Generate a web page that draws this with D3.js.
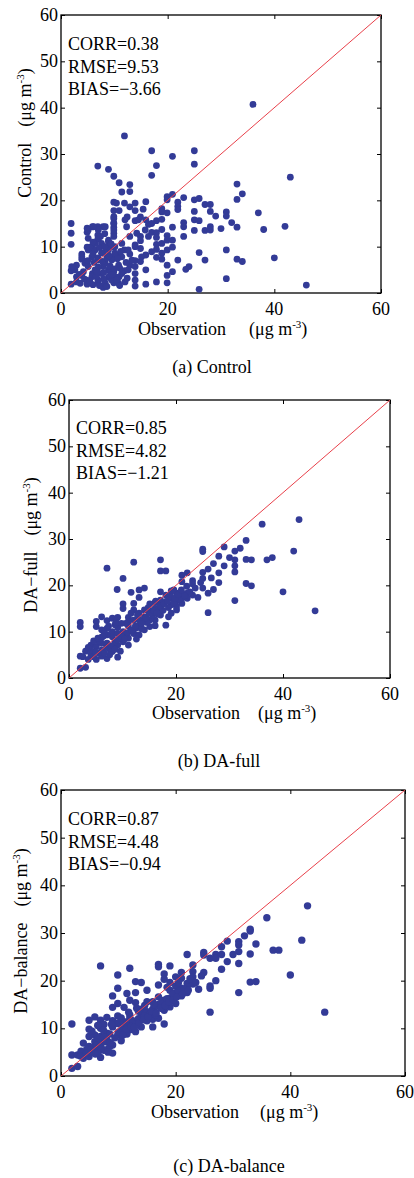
<!DOCTYPE html>
<html>
<head>
<meta charset="utf-8">
<script src="https://cdn.jsdelivr.net/npm/d3@7"></script>
<style>
body { margin: 0; background: #fff; }
svg { display: block; font-family: "Liberation Serif", "Times New Roman", serif; }
</style>
</head>
<body>
<svg id="chart" width="414" height="1178"></svg>
<script>
// axis ticks, shared by the three panels
var xTicks = [0, 20, 40, 60];
var yTicks = [0, 10, 20, 30, 40, 50, 60];

var panelNames = ["Control", "DA\u2212full", "DA\u2212balance"];
var captions = ["(a) Control", "(b) DA-full", "(c) DA-balance"];
var corrValues = ["0.38", "0.85", "0.87"];
var rmseValues = ["9.53", "4.82", "4.48"];
var biasValues = ["\u22123.66", "\u22121.21", "\u22120.94"];

// [observation, model] pairs
var controlPoints = [
  [36.0,40.7],[11.9,33.9],[17.0,30.7],[25.0,30.7],[20.9,29.5],[25.0,27.8],[17.9,27.5],[6.9,27.4],
  [8.9,26.7],[17.0,25.4],[9.9,25.2],[43.0,25.0],[10.9,23.8],[12.9,23.4],[33.0,23.5],[12.9,21.9],
  [11.4,21.8],[34.0,21.4],[20.9,21.3],[19.9,20.8],[23.0,20.6],[25.9,20.4],[25.0,20.1],[33.0,20.2],
  [19.9,20.1],[15.9,19.7],[9.9,19.6],[10.4,19.4],[11.9,19.4],[13.9,19.4],[21.9,19.6],[27.0,19.1],
  [28.0,19.1],[21.9,18.7],[12.9,18.6],[18.9,18.2],[21.9,18.0],[9.9,17.8],[10.9,17.8],[13.9,17.8],
  [15.4,18.1],[18.9,17.5],[19.9,17.3],[25.0,17.6],[28.0,17.6],[31.0,17.5],[37.0,17.3],[29.0,16.6],
  [31.0,16.6],[12.4,16.4],[9.9,16.1],[14.9,16.4],[15.9,15.8],[13.9,15.6],[17.9,15.6],[18.9,15.9],
  [25.0,15.8],[25.9,15.6],[23.0,15.2],[32.0,15.2],[1.9,15.0],[16.4,14.8],[9.9,15.0],[23.0,14.3],
  [28.0,14.3],[33.0,14.2],[42.0,14.4],[20.9,14.2],[9.9,14.2],[4.9,14.0],[5.9,14.3],[6.9,14.3],
  [7.9,14.3],[4.9,13.1],[18.9,13.7],[27.0,13.5],[28.0,13.6],[25.0,13.5],[30.0,13.9],[38.0,13.7],
  [1.9,12.9],[9.9,12.9],[17.0,13.1],[17.9,13.0],[14.9,12.2],[12.9,12.2],[23.0,12.2],[19.9,12.4],
  [17.9,12.0],[6.9,12.5],[6.9,11.6],[20.9,11.4],[8.9,11.1],[14.9,11.3],[19.9,11.4],[1.9,10.5],
  [8.9,10.2],[13.9,10.4],[17.9,10.5],[18.9,10.7],[20.9,9.9],[31.0,9.3],[9.9,9.9],[4.9,9.9],
  [11.9,9.3],[14.9,9.6],[5.9,9.6],[17.9,9.4],[19.9,9.3],[17.0,8.9],[25.9,8.7],[7.9,8.7],
  [3.9,8.4],[12.9,8.4],[15.9,8.2],[18.9,8.6],[10.9,8.2],[40.0,7.6],[6.9,7.6],[27.0,7.1],
  [33.0,7.3],[34.0,6.8],[18.9,7.3],[21.9,7.1],[3.9,7.3],[9.9,7.5],[13.9,7.0],[17.9,7.7],
  [2.9,6.0],[4.9,6.4],[12.9,6.0],[14.9,6.8],[19.9,6.0],[24.0,5.7],[23.4,5.1],[7.9,5.7],
  [15.9,5.0],[1.9,4.8],[11.9,4.8],[20.9,4.6],[9.9,4.6],[13.9,4.2],[5.9,4.2],[19.9,3.8],
  [2.9,3.5],[3.9,3.8],[31.0,3.1],[8.9,3.4],[10.9,3.5],[6.9,2.9],[13.9,2.8],[17.9,2.4],
  [19.9,2.2],[15.9,1.9],[4.9,1.9],[1.9,1.9],[13.9,1.5],[7.9,1.2],[25.9,0.8],[46.0,1.7],
  [2.9,2.4],[9.9,2.2],
  [5.1,9.3],[6.4,9.3],[7.6,8.6],[8.9,9.3],[10.1,8.6],[11.4,7.8],[5.8,7.8],[7.0,7.1],
  [8.3,6.4],[9.5,7.1],[10.8,6.0],[4.5,6.4],[3.9,7.8],[5.1,5.7],[6.4,5.0],[7.6,4.2],
  [8.9,5.0],[10.1,3.5],[11.4,4.2],[12.6,5.0],[13.9,5.7],[5.8,3.5],[7.0,2.4],[8.3,2.1],
  [9.5,2.8],[10.8,2.1],[12.0,2.4],[4.8,2.8],[3.6,2.1],[2.6,5.0],[2.0,5.7],[6.4,10.7],
  [7.6,10.7],[7.0,13.6],[5.1,13.6],[6.1,14.3],[8.3,14.3],[5.1,11.8],[7.0,11.8],[8.9,11.4],
  [10.1,10.0],[11.4,10.7],[12.6,9.3],[13.9,10.0],[13.3,7.1],[15.1,7.8],[9.9,16.5],[9.9,15.1],
  [9.9,13.6],[9.9,12.2],[12.0,15.8],[12.3,14.3],[14.5,15.8],[14.2,12.9],[15.8,13.6],[16.4,12.2],
  [17.0,15.0],
  [4.4,3.0],[5.4,2.6],[6.0,1.8],[6.6,3.6],[7.2,1.6],[8.0,3.0],[8.6,1.4],[9.2,3.8],
  [10.4,2.8],[11.0,1.6],[6.2,6.6],[7.0,5.6],[7.8,6.8],[8.6,7.6],[9.2,5.8],[10.0,5.2],
  [10.6,7.4],[6.0,8.4],[5.4,9.9],[7.2,9.8],[8.2,10.0],[9.0,8.0],[11.2,9.0],[12.2,6.6],
  [4.2,4.6],[3.4,4.0],[5.0,7.0],[6.8,4.6],[8.0,4.4],[9.6,4.0],[11.0,5.4],[12.4,3.2],
  [7.4,12.2],[8.2,12.8],[6.0,11.0],[9.4,10.6]
];

var fullPoints = [
  [43.0,34.2],[36.1,33.2],[33.1,29.7],[29.0,28.3],[25.0,27.8],[25.0,27.3],[32.0,28.0],[31.0,27.4],
  [42.0,27.4],[28.0,26.3],[30.0,26.0],[37.0,25.5],[38.0,26.0],[33.1,25.6],[34.1,25.5],[31.0,25.5],
  [17.1,25.5],[12.1,25.0],[7.1,23.7],[27.0,24.7],[29.0,24.2],[31.0,24.2],[26.0,23.5],[25.0,22.8],
  [31.0,22.9],[17.1,23.1],[18.1,23.1],[22.1,22.7],[21.1,22.2],[28.0,22.7],[25.0,21.5],[10.1,21.5],
  [21.1,20.8],[23.1,21.0],[28.0,20.6],[33.1,20.4],[34.1,19.9],[23.1,20.3],[9.0,19.1],[13.1,19.0],
  [14.1,19.4],[11.6,18.5],[17.1,18.6],[25.0,19.4],[27.0,19.1],[26.0,18.3],[40.0,18.6],[19.1,18.8],
  [20.1,18.3],[22.1,18.3],[23.1,17.9],[24.1,17.4],[21.1,17.2],[19.1,17.2],[13.1,17.4],[31.0,16.7],
  [18.1,16.5],[16.1,16.3],[15.1,16.0],[12.1,16.1],[10.1,16.0],[21.1,16.1],[20.1,16.6],[26.0,14.1],
  [46.0,14.5],[17.1,15.0],[12.1,14.7],[15.1,14.3],[20.1,14.7],[19.1,14.0],[10.1,15.0],[6.1,13.2],
  [5.1,12.2],[2.1,12.0],[2.1,11.1],[7.1,12.4],[8.1,12.9],[9.1,13.1],[11.1,13.1],[14.1,13.2],
  [16.1,12.5],[18.1,11.4],[5.1,11.1],[7.1,10.7],[9.1,10.9],[11.1,11.2],[13.1,11.4],[15.1,11.1],
  [16.1,11.3],[10.1,10.0],[12.1,9.6],[14.1,10.4],[8.1,8.9],[6.1,8.8],[11.1,8.6],[13.1,9.3],
  [4.1,7.1],[5.1,6.8],[7.1,7.5],[9.1,7.1],[10.1,7.8],[6.1,6.0],[8.1,5.7],[3.1,5.8],
  [2.1,4.7],[2.6,4.6],[4.1,5.0],[5.1,4.0],[7.1,4.2],[9.1,4.5],[2.1,2.1],[3.1,2.3],
  [6.1,4.7],[8.1,6.8],[6.1,7.5],[4.1,6.0],[11.1,7.1],[8.1,10.0],[15.1,12.5],[17.1,13.6],
  [22.1,17.2],[18.1,17.9],[17.1,16.8],[14.1,14.7],[16.1,15.0],[20.1,15.4],[19.1,15.8],[21.1,18.3],
  [13.1,14.0],[11.1,12.2],[12.1,12.5],[9.1,9.6],[7.1,9.3],[6.1,10.4],
  [5.6,8.0],[7.6,6.2],[8.6,7.8],[9.6,8.6],[10.6,9.4],[12.6,10.8],[14.6,12.0],[16.6,13.8],
  [18.6,15.2],[19.6,16.2],[20.6,17.0],[21.6,17.8],[17.6,14.6],[15.6,13.5],[13.6,12.4],[11.6,10.4],
  [10.6,11.8],[8.6,11.5],[6.6,9.6],[4.6,8.0],[3.6,6.6],[5.6,5.4],[7.6,5.0],[9.6,5.8],
  [12.6,8.4],[13.6,10.6],[18.6,13.2],[19.6,19.0],[22.6,18.6],[23.6,19.4],[24.6,20.6],[26.6,21.6],
  [3.6,4.0],[4.6,4.6],[5.0,5.6],[6.6,5.4],[7.0,6.6],[7.8,7.0],[8.6,6.2],[9.0,8.2],
  [9.8,9.0],[10.4,8.4],[11.0,9.8],[11.8,10.2],[12.4,11.2],[13.0,12.6],[13.6,11.8],[14.4,13.0],
  [15.0,14.0],[15.8,14.6],[16.4,14.0],[17.0,15.6],[17.8,16.0],[18.4,16.6],[19.0,17.6],[19.8,17.2],
  [20.4,18.0],[21.0,19.0],[22.0,19.8],[5.4,8.6],[6.4,9.0],[7.4,11.2],[8.8,12.0],[9.8,11.8],
  [11.6,14.0],[12.8,13.6],[14.8,15.2],[16.2,16.6]
];

var balancePoints = [
  [43.0,35.7],[35.9,33.2],[33.0,30.8],[33.0,30.4],[32.0,29.4],[29.0,28.3],[31.0,28.2],[31.0,27.5],
  [42.0,28.5],[34.0,27.7],[28.0,27.1],[37.0,26.4],[38.0,26.4],[31.0,26.1],[30.0,25.5],[24.9,25.9],
  [24.9,25.4],[22.0,25.5],[27.0,25.5],[28.0,25.5],[33.0,25.6],[26.0,24.7],[27.0,24.7],[29.0,24.0],
  [31.0,23.6],[23.0,23.3],[17.0,23.4],[17.0,22.9],[19.0,23.1],[6.9,23.1],[12.0,22.6],[28.0,22.4],
  [24.9,21.7],[23.0,21.9],[21.0,21.7],[18.0,21.4],[9.9,21.2],[40.0,21.2],[23.0,20.8],[20.0,20.8],
  [21.0,20.5],[13.0,19.8],[14.0,19.6],[33.0,19.7],[34.0,19.8],[27.0,20.0],[18.0,20.3],[19.0,19.6],
  [22.0,19.4],[23.0,19.3],[17.0,19.1],[26.0,18.9],[26.0,18.4],[9.9,18.4],[21.0,18.4],[24.0,18.2],
  [19.0,18.0],[20.0,17.5],[31.0,17.5],[22.0,17.5],[15.0,18.0],[11.5,17.3],[13.0,17.5],[9.0,16.8],
  [21.0,16.8],[19.0,16.3],[18.0,15.9],[12.0,15.9],[13.0,15.4],[15.0,15.6],[16.0,15.6],[17.0,15.0],
  [9.9,15.2],[9.0,14.4],[11.0,14.4],[14.0,14.0],[16.0,14.0],[18.0,13.8],[26.0,13.4],[46.0,13.4],
  [5.9,12.4],[4.9,11.7],[6.9,11.7],[8.0,12.3],[9.9,12.6],[12.0,12.8],[14.0,12.8],[1.9,10.9],
  [9.0,11.6],[11.0,11.4],[13.0,11.0],[15.0,11.6],[16.0,11.9],[18.0,10.9],[4.9,9.8],[6.9,10.0],
  [9.0,10.3],[11.0,10.0],[13.0,9.3],[5.9,8.6],[8.0,9.0],[9.9,8.6],[3.9,6.9],[4.9,6.2],
  [6.9,6.9],[9.0,6.5],[8.0,7.6],[1.9,4.4],[2.9,4.4],[3.9,3.7],[4.9,4.1],[6.9,3.9],
  [9.0,4.8],[1.9,1.6],[2.9,2.0],[5.9,5.1],[8.0,5.5],[5.9,7.2],[12.0,9.7],[14.0,10.3],
  [16.0,10.3],[17.0,12.1],[19.0,14.5],[20.0,15.2],[17.0,16.6],[22.0,18.7],[20.0,18.9],[15.0,13.5],
  [12.0,12.1],[9.9,11.0],[6.9,8.3],[4.9,8.3],
  [5.5,6.0],[6.5,7.8],[7.5,8.2],[8.5,8.8],[10.5,9.6],[11.5,10.8],[12.5,11.6],[13.5,12.0],
  [14.5,12.6],[15.5,13.0],[16.5,14.6],[17.5,15.4],[18.5,16.2],[19.5,17.2],[20.5,17.8],[21.5,18.2],
  [7.5,5.4],[6.5,5.0],[8.5,6.2],[10.5,7.4],[11.5,8.8],[3.5,5.2],[4.5,5.6],[7.5,10.8],
  [10.5,12.2],[13.5,13.6],[18.5,18.6],[20.5,19.6],[22.5,20.4],[23.5,19.6],[24.5,21.0],[16.5,12.8],
  [3.4,4.2],[4.4,4.8],[5.2,5.4],[6.2,6.4],[7.0,6.0],[7.8,7.2],[8.6,7.0],[9.4,8.0],
  [10.0,9.2],[10.8,8.6],[11.4,9.8],[12.2,10.4],[12.8,10.2],[13.6,11.2],[14.4,11.8],[15.2,12.4],
  [15.8,13.6],[16.6,13.2],[17.4,14.2],[18.2,14.8],[18.8,15.6],[19.6,16.0],[20.2,16.6],[21.2,17.2],
  [22.2,18.0],[5.4,9.4],[6.4,10.6],[7.4,9.6],[8.8,10.8],[10.2,11.2],[11.8,13.4],[13.2,14.2],
  [14.6,14.8],[16.2,15.0],[6.0,4.6],[8.2,5.0]
];

var panelData = [controlPoints, fullPoints, balancePoints];

// where each panel sits on the page
var panels = [
  { left: 61, right: 381, top: 15, bottom: 293, r: 3.4,
    yLabX: 31, yLabY: 133, tickBase: 315, obsX: 138, unitX: 249, xLabBase: 335,
    capX: 212, capBase: 373, statX: 68, statBase: 50 },
  { left: 69, right: 390, top: 400, bottom: 678, r: 3.4,
    yLabX: 37, yLabY: 545, tickBase: 700, obsX: 152, unitX: 258, xLabBase: 719,
    capX: 219, capBase: 767, statX: 76, statBase: 434 },
  { left: 61, right: 405, top: 790, bottom: 1076, r: 3.7,
    yLabX: 27, yLabY: 931, tickBase: 1098, obsX: 151, unitX: 260, xLabBase: 1118,
    capX: 229, capBase: 1172, statX: 68, statBase: 825 }
];

var svg = d3.select("#chart");
var fontSize = 18;

function unitLabel(sel) {
  sel.append("tspan").text("(\u03bcg m");
  sel.append("tspan").attr("dy", -7).style("font-size", "11px").text("-3");
  sel.append("tspan").attr("dy", 7).text(")");
}

function drawPanel(p, data, i) {
  var xScale = d3.scaleLinear().domain([0, 60]).range([p.left, p.right]);
  var yScale = d3.scaleLinear().domain([0, 60]).range([p.bottom, p.top]);
  var g = svg.append("g");

  // inward ticks on all four sides
  var w = p.right - p.left, h = p.bottom - p.top;
  g.append("g").attr("transform", "translate(0," + p.bottom + ")")
    .call(d3.axisBottom(xScale).tickValues(xTicks).tickSize(-4).tickFormat(""));
  g.append("g").attr("transform", "translate(0," + p.top + ")")
    .call(d3.axisTop(xScale).tickValues(xTicks).tickSize(-4).tickFormat(""));
  g.append("g").attr("transform", "translate(" + p.left + ",0)")
    .call(d3.axisLeft(yScale).tickValues(yTicks).tickSize(-4).tickFormat(""));
  g.append("g").attr("transform", "translate(" + p.right + ",0)")
    .call(d3.axisRight(yScale).tickValues(yTicks).tickSize(-4).tickFormat(""));
  g.selectAll(".domain").remove();
  g.selectAll(".tick line").attr("stroke", "#000").attr("stroke-width", 1);

  g.append("rect")
    .attr("x", p.left).attr("y", p.top).attr("width", w).attr("height", h)
    .attr("fill", "none").attr("stroke", "#000").attr("stroke-width", 1.3);

  // tick labels
  g.selectAll(".xlab").data(xTicks).enter().append("text")
    .attr("x", function(d) { return xScale(d); })
    .attr("y", p.tickBase)
    .attr("text-anchor", "middle")
    .style("font-size", fontSize + "px")
    .text(function(d) { return d; });
  g.selectAll(".ylab").data(yTicks).enter().append("text")
    .attr("x", p.left - 3)
    .attr("y", function(d) { return yScale(d); })
    .attr("dy", "0.33em")
    .attr("text-anchor", "end")
    .style("font-size", fontSize + "px")
    .text(function(d) { return d; });

  // points
  g.selectAll(".dots").data(data).enter().append("circle")
    .attr("class", "dots")
    .attr("cx", function(d) { return xScale(d[0]); })
    .attr("cy", function(d) { return yScale(d[1]); })
    .attr("r", p.r)
    .attr("fill", "#333b97");

  // 1:1 line
  g.append("line")
    .attr("x1", xScale(0)).attr("y1", yScale(0))
    .attr("x2", xScale(60)).attr("y2", yScale(60))
    .attr("stroke", "#e8404a").attr("stroke-width", 1);

  // stats
  var stats = ["CORR=" + corrValues[i], "RMSE=" + rmseValues[i], "BIAS=" + biasValues[i]];
  g.selectAll(".stat").data(stats).enter().append("text")
    .attr("x", p.statX)
    .attr("y", function(d, k) { return p.statBase + k * 22.5; })
    .style("font-size", fontSize + "px")
    .text(function(d) { return d; });

  // x axis label
  g.append("text").attr("x", p.obsX).attr("y", p.xLabBase)
    .style("font-size", fontSize + "px").text("Observation");
  g.append("text").attr("x", p.unitX).attr("y", p.xLabBase)
    .style("font-size", fontSize + "px").call(unitLabel);

  // y axis label
  var yl = g.append("text")
    .attr("transform", "translate(" + p.yLabX + "," + p.yLabY + ") rotate(-90)")
    .attr("text-anchor", "middle")
    .style("font-size", fontSize + "px");
  yl.append("tspan").text(panelNames[i]);
  yl.append("tspan").attr("dx", 16).text("(\u03bcg m");
  yl.append("tspan").attr("dy", -7).style("font-size", "11px").text("-3");
  yl.append("tspan").attr("dy", 7).text(")");

  // caption
  g.append("text").attr("x", p.capX).attr("y", p.capBase)
    .attr("text-anchor", "middle")
    .style("font-size", fontSize + "px")
    .text(captions[i]);
}

panels.forEach(function(p, i) { drawPanel(p, panelData[i], i); });
</script>
</body>
</html>
